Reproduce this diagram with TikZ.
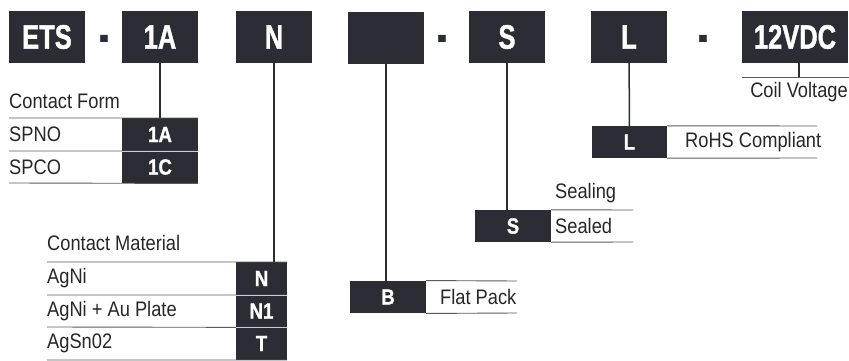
\documentclass[tikz,border=0pt]{standalone}
\usepackage{fontspec}
\setmainfont{Liberation Sans}[FakeStretch=0.87]
\newfontfamily\codefont{Liberation Sans}[FakeStretch=0.75, BoldFeatures={FakeBold=1.2}]
\newfontfamily\cellfont{Liberation Sans}[FakeStretch=0.85, BoldFeatures={FakeBold=1}]
\newfontfamily\dashfont{Liberation Sans}[FakeStretch=0.5]
\definecolor{boxgray}{HTML}{2B2D35}
\definecolor{rulegray}{HTML}{5A5A5A}
\definecolor{textgray}{HTML}{262626}
\tikzset{
  codebox/.style={fill=boxgray, text=white, inner sep=0pt,
    minimum width=76pt, minimum height=52pt,
    font=\codefont\bfseries\fontsize{34}{34}\selectfont},
  tabbox/.style={fill=boxgray, text=white, inner sep=0pt,
    minimum width=76pt, minimum height=32.5pt,
    font=\cellfont\bfseries\fontsize{22}{22}\selectfont},
  dashmark/.style={text=boxgray, inner sep=1pt,
    font=\dashfont\bfseries\fontsize{60}{60}\selectfont},
  item/.style={anchor=west, inner sep=0pt, text=textgray,
    font=\fontsize{21}{21}\selectfont},
  rowline/.style={draw=rulegray, line width=0.9pt},
  link/.style={draw=boxgray, line width=1.5pt},
}
\begin{document}
\begin{tikzpicture}[x=1pt,y=-1pt]
\useasboundingbox (0,0) rectangle (849,361);

% part number
\node[codebox] (ets) at (47,37) {ETS};
\node[dashmark] (d1) at (104,44.5) {-};
\node[codebox] (form) at (160,37) {1A};
\node[codebox] (mat) at (274,37) {N};
\node[codebox] (pack) at (386,38) {};
\node[dashmark] (d2) at (442,44.5) {-};
\node[codebox] (seal) at (507,37) {S};
\node[codebox] (rohs) at (629,37) {L};
\node[dashmark] (d3) at (703,44.5) {-};
\node[codebox, minimum width=106pt] (volt) at (795,37) {12VDC};

% contact form
\node[item] (formt) at (9,101) {Contact Form};
\node[tabbox] (f1A) at (160,134.5) {1A};
\node[tabbox] (f1C) at (160,167) {1C};
\node[item] (spno) at (9,134.5) {SPNO};
\node[item] (spco) at (9,167) {SPCO};
\draw[rowline] (9,118) -- (f1A.north east);
\draw[rowline] (9,151) -- (f1A.south east);
\draw[rowline] (9,183) -- (f1C.south east);
\draw[draw=white!80!black, line width=0.8pt] (f1A.south west) -- (f1A.south east);
\draw[link] (form) -- (f1A);

% contact material
\node[item] (matt) at (47,243) {Contact Material};
\node[tabbox, minimum width=51pt] (mN) at (261.5,278.5) {N};
\node[tabbox, minimum width=51pt] (mN1) at (261.5,311) {N1};
\node[tabbox, minimum width=51pt] (mT) at (261.5,343.5) {T};
\node[item] (agni) at (47,278.5) {AgNi};
\node[item] (agau) at (47,311) {AgNi + Au Plate};
\node[item] (agsn) at (47,343.5) {AgSn02};
\draw[rowline] (47,262) -- (mN.north east);
\draw[rowline] (47,295) -- (mN.south east);
\draw[rowline] (47,327) -- (mN1.south east);
\draw[rowline] (47,360) -- (mT.south east);
\draw[draw=white!80!black, line width=0.8pt] (mN.south west) -- (mN.south east);
\draw[draw=white!80!black, line width=0.8pt] (mN1.south west) -- (mN1.south east);
\draw[link] (mat) -- (mat.south |- mN.north);

% package
\node[tabbox] (pB) at (388,297) {B};
\node[item] (flat) at (440,297) {Flat Pack};
\draw[rowline] (pB.north east) -- (517,281);
\draw[rowline] (pB.south east) -- (517,313);
\draw[link] (pack) -- (pack |- pB.north);

% sealing
\node[item] (sealt) at (555,193) {Sealing};
\node[tabbox, minimum height=32pt] (sS) at (513,226) {S};
\node[item] (sealed) at (555,226) {Sealed};
\draw[rowline] (sS.north east) -- (633,210);
\draw[rowline] (sS.south east) -- (633,242);
\draw[link] (seal) -- (seal.south |- sS.north);

% rohs
\node[tabbox, minimum width=75pt, minimum height=32pt] (rL) at (629.5,142) {L};
\node[item] (rohst) at (685,142) {RoHS Compliant};
\draw[rowline] (rL.north east) -- (817,126);
\draw[rowline] (rL.south east) -- (817,158);
\draw[link] (rohs) -- (rL);

% coil voltage
\coordinate (vj) at (799,77);
\draw[link] (volt.south -| vj) -- (vj);
\draw[rowline] (742,77) -- (849,77);
\node[item, anchor=center] (coil) at (799,92) {Coil Voltage};
\end{tikzpicture}
\end{document}
